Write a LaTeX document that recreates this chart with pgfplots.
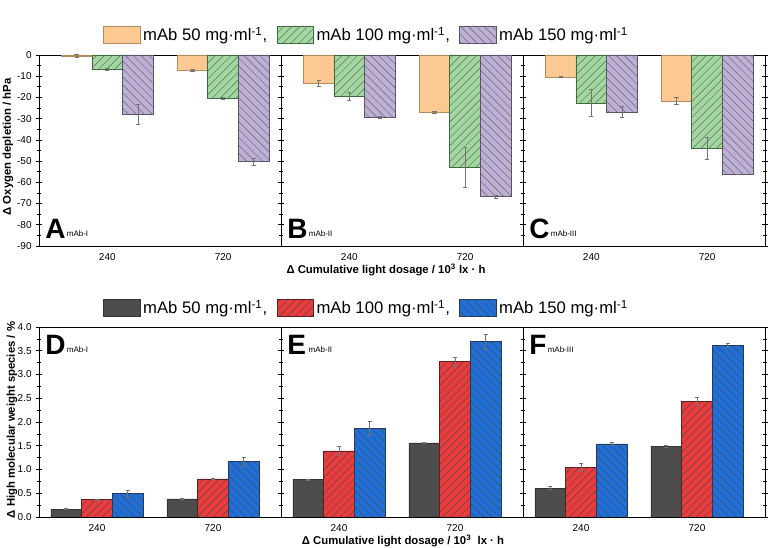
\documentclass[border=0pt]{standalone}
\usepackage{pgfplots}
\usepackage{pgfplotstable}
\pgfplotsset{compat=1.18}
\usetikzlibrary{patterns.meta}
\usepackage{fontspec}
\setmainfont{Liberation Sans}

\definecolor{cOr}{HTML}{FCC993}
\definecolor{cOrE}{HTML}{B58A5C}
\definecolor{cGr}{HTML}{A0D8A0}
\definecolor{cGrE}{HTML}{3F6B3F}
\definecolor{cPu}{HTML}{BDAFD6}
\definecolor{cPuE}{HTML}{5A5468}
\definecolor{cDk}{HTML}{4D4D4D}
\definecolor{cDkE}{HTML}{333333}
\definecolor{cRd}{HTML}{EC3B3D}
\definecolor{cRdE}{HTML}{5A2020}
\definecolor{cBl}{HTML}{1E6FD9}
\definecolor{cBlE}{HTML}{243A5A}

% top panels: x o oe g ge p pe
\pgfplotstableread{
x o oe g ge p pe
0 -0.4 0.8 -6.7 0.3 -27.9 4.7
1 -7.2 0.4 -20.4 0.4 -50.3 1.8
}\tA
\pgfplotstableread{
x o oe g ge p pe
0 -13.4 1.5 -19.5 1.7 -29.4 0.3
1 -27.0 0.3 -52.9 9.6 -66.8 0.5
}\tB
\pgfplotstableread{
x o oe g ge p pe
0 -10.4 0.2 -22.6 6.4 -26.9 2.5
1 -21.7 1.6 -44.0 5.2 -56.1 0.0
}\tC
% bottom panels
\pgfplotstableread{
x o oe g ge p pe
0 0.168 0.01 0.365 0.01 0.49 0.08
1 0.38 0.01 0.80 0.01 1.165 0.09
}\tD
\pgfplotstableread{
x o oe g ge p pe
0 0.786 0.01 1.39 0.10 1.87 0.15
1 1.558 0.01 3.27 0.10 3.69 0.16
}\tE
\pgfplotstableread{
x o oe g ge p pe
0 0.61 0.03 1.046 0.09 1.537 0.03
1 1.488 0.03 2.44 0.085 3.607 0.04
}\tF

\pgfplotsset{
  base/.style={scale only axis, width=181.5pt, anchor=south west, ybar, bar width=0.265,
    xtick={0,1}, xticklabels={240,720}, xtick style={draw=none},
    tick align=center, major tick length=4pt, minor tick length=2.5pt,
    tick style={black, line width=0.5pt},
    axis line style={line width=0.7pt},
    ticklabel style={font=\fontsize{7.5}{8}\selectfont},
    /pgf/number format/assume math mode=true,
    minor y tick num=1,
    legend image code/.code={\draw[##1] (0pt,-6.5pt) rectangle (27.5pt,6.5pt);},
  },
  toppanel/.style={base, height=143.25pt, xmin=-0.59, xmax=1.5, ymin=-90, ymax=0, ytick={-90,-80,...,0}},
  botpanel/.style={base, height=142.5pt, xmin=-0.5, xmax=1.586, ymin=0, ymax=4, ytick={0,0.5,...,4},
    yticklabel style={/pgf/number format/.cd, fixed, fixed zerofill, precision=1}},
  noylab/.style={yticklabels={}},
  errs/.style={/pgfplots/error bars/y dir=both, /pgfplots/error bars/y explicit,
    /pgfplots/error bars/error bar style={black!55, line width=0.45pt},
    /pgfplots/error bars/error mark options={rotate=90, black!55, mark size=1.6pt, line width=0.45pt}},
  sO/.style={errs, fill=cOr, draw=cOrE, line width=0.5pt, bar shift=-0.265},
  sG/.style={errs, fill=cGr, draw=cGrE, line width=0.5pt, bar shift=0,
    postaction={pattern={Lines[angle=45,distance=4.2pt,line width=0.35pt]}, pattern color=black!60}},
  sP/.style={errs, fill=cPu, draw=cPuE, line width=0.5pt, bar shift=0.265,
    postaction={pattern={Lines[angle=-45,distance=4.2pt,line width=0.35pt]}, pattern color=black!60}},
  sK/.style={errs, fill=cDk, draw=cDkE, line width=0.5pt, bar shift=-0.265},
  sR/.style={errs, fill=cRd, draw=cRdE, line width=0.5pt, bar shift=0,
    postaction={pattern={Lines[angle=45,distance=4.2pt,line width=0.35pt]}, pattern color=black!70}},
  sB/.style={errs, fill=cBl, draw=cBlE, line width=0.5pt, bar shift=0.265,
    postaction={pattern={Lines[angle=-45,distance=4.2pt,line width=0.35pt]}, pattern color=black!70}},
  leg/.style={legend columns=3,
    legend style={draw=none, fill=none, at={(1.355,#1)}, anchor=center,
      font=\fontsize{12.5}{13}\selectfont,
      /tikz/every even column/.append style={column sep=5pt}}},
}

\newcommand{\plab}[2]{{\fontsize{21}{21}\selectfont\bfseries #1}\raisebox{2pt}{\fontsize{6}{6}\selectfont\,#2}}

\begin{document}
\begin{tikzpicture}
\useasboundingbox (0,0) rectangle (588pt,411pt);

% ---------- top row ----------
\begin{axis}[toppanel, at={(29.25pt,226.5pt)}, leg=1.105]
\addplot[sO] table[x=x, y=o, y error=oe] {\tA};
\addlegendentry{mAb 50 mg·ml\textsuperscript{-1},}
\addplot[sG] table[x=x, y=g, y error=ge] {\tA};
\addlegendentry{mAb 100 mg·ml\textsuperscript{-1},}
\addplot[sP] table[x=x, y=p, y error=pe] {\tA};
\addlegendentry{mAb 150 mg·ml\textsuperscript{-1}}
\node[anchor=base west, inner sep=0pt] at (rel axis cs:0.025,0.037) {\plab{A}{mAb-I}};
\end{axis}

\begin{axis}[toppanel, noylab, at={(210.75pt,226.5pt)}]
\addplot[sO] table[x=x, y=o, y error=oe] {\tB};
\addplot[sG] table[x=x, y=g, y error=ge] {\tB};
\addplot[sP] table[x=x, y=p, y error=pe] {\tB};
\node[anchor=base west, inner sep=0pt] at (rel axis cs:0.025,0.037) {\plab{B}{mAb-II}};
\end{axis}

\begin{axis}[toppanel, noylab, at={(392.25pt,226.5pt)}]
\addplot[sO] table[x=x, y=o, y error=oe] {\tC};
\addplot[sG] table[x=x, y=g, y error=ge] {\tC};
\addplot[sP] table[x=x, y=p, y error=pe] {\tC};
\node[anchor=base west, inner sep=0pt] at (rel axis cs:0.025,0.037) {\plab{C}{mAb-III}};
\end{axis}

% ---------- bottom row ----------
\begin{axis}[botpanel, at={(29.25pt,23.25pt)}, leg=1.1]
\addplot[sK] table[x=x, y=o, y error=oe] {\tD};
\addlegendentry{mAb 50 mg·ml\textsuperscript{-1},}
\addplot[sR] table[x=x, y=g, y error=ge] {\tD};
\addlegendentry{mAb 100 mg·ml\textsuperscript{-1},}
\addplot[sB] table[x=x, y=p, y error=pe] {\tD};
\addlegendentry{mAb 150 mg·ml\textsuperscript{-1}}
\node[anchor=base west, inner sep=0pt] at (rel axis cs:0.025,0.853) {\plab{D}{mAb-I}};
\end{axis}

\begin{axis}[botpanel, noylab, at={(210.75pt,23.25pt)}]
\addplot[sK] table[x=x, y=o, y error=oe] {\tE};
\addplot[sR] table[x=x, y=g, y error=ge] {\tE};
\addplot[sB] table[x=x, y=p, y error=pe] {\tE};
\node[anchor=base west, inner sep=0pt] at (rel axis cs:0.025,0.853) {\plab{E}{\,mAb-II}};
\end{axis}

\begin{axis}[botpanel, noylab, at={(392.25pt,23.25pt)}]
\addplot[sK] table[x=x, y=o, y error=oe] {\tF};
\addplot[sR] table[x=x, y=g, y error=ge] {\tF};
\addplot[sB] table[x=x, y=p, y error=pe] {\tF};
\node[anchor=base west, inner sep=0pt] at (rel axis cs:0.025,0.853) {\plab{F}{mAb-III}};
\end{axis}

% axis titles
\node[font=\fontsize{8.5}{9}\selectfont\bfseries] at (289.5pt,208.5pt) {Δ Cumulative light dosage / 10\textsuperscript{3} lx · h};
\node[font=\fontsize{8.5}{9}\selectfont\bfseries] at (302.25pt,5.25pt) {Δ Cumulative light dosage / 10\textsuperscript{3}\ \ lx · h};
\node[font=\fontsize{8.5}{9}\selectfont\bfseries, rotate=90] at (6pt,300.75pt) {Δ Oxygen depletion / hPa};
\node[font=\fontsize{8.5}{9}\selectfont\bfseries, rotate=90] at (9pt,96pt) {Δ High molecular weight species / \%};
\end{tikzpicture}
\end{document}
